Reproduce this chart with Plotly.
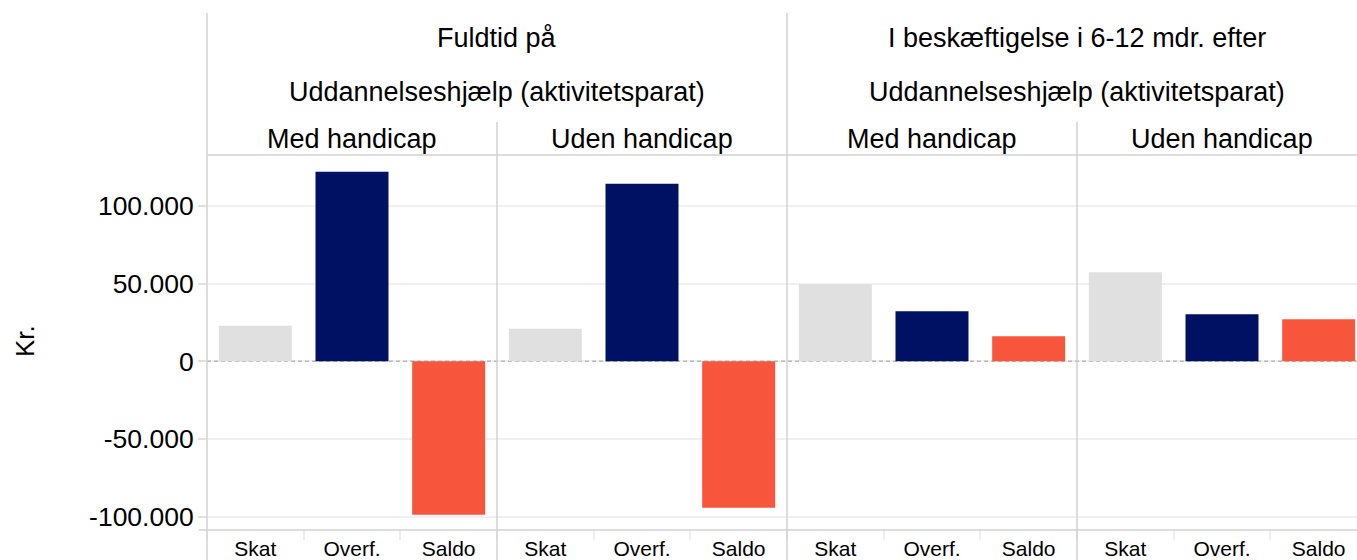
import plotly.graph_objects as go

categories = ["Skat", "Overf.", "Saldo"]
group_top = ["Fuldtid på", "I beskæftigelse i 6-12 mdr. efter"]
group_sub = "Uddannelseshjælp (aktivitetsparat)"
panel_titles = ["Med handicap", "Uden handicap", "Med handicap", "Uden handicap"]

fuldtid_med = [22800, 121900, -98600]
fuldtid_uden = [20900, 114200, -94100]
besk_med = [49600, 32200, 16100]
besk_uden = [57300, 30200, 27000]
panels = [fuldtid_med, fuldtid_uden, besk_med, besk_uden]

y_tickvals = [-100000, -50000, 0, 50000, 100000]
y_ticktext = ["-100.000", "-50.000", "0", "50.000", "100.000"]

bar_colors = ["#E0E0E0", "#001163", "#F7563D"]
FONT = "Liberation Sans, Arial, sans-serif"

W, H = 1357, 560
L, R, T, B = 207, 0, 155, 30
PW = W - L - R
PH = H - T - B
panel_px = 290.0
cat_px = panel_px / 3.0


def px_x(px):
    return (px - L) / PW


def px_y(py):
    return (H - B - py) / PH


fig = go.Figure()
for i, vals in enumerate(panels):
    ax = "x" if i == 0 else f"x{i+1}"
    fig.add_trace(go.Bar(
        x=categories, y=vals, xaxis=ax, yaxis="y",
        marker=dict(color=bar_colors, line=dict(width=0)),
        width=0.755, showlegend=False, hoverinfo="x+y",
    ))

layout = dict(
    width=W, height=H,
    margin=dict(l=L, r=R, t=T, b=B, pad=0),
    plot_bgcolor="rgba(0,0,0,0)", paper_bgcolor="white",
    font=dict(family=FONT, color="#000"),
    yaxis=dict(
        range=[-108400, 132600], tickvals=y_tickvals, ticktext=y_ticktext,
        tickfont=dict(size=26.5, family=FONT, color="#000"),
        showgrid=True, gridcolor="rgba(0,0,0,0.06)", gridwidth=1.5,
        zeroline=False, showline=False,
        ticks="outside", ticklen=8, tickcolor="#E0E0E0", tickwidth=1.5,
        ticklabelstandoff=-1, anchor="x",
    ),
)
for i in range(4):
    key = "xaxis" if i == 0 else f"xaxis{i+1}"
    x0 = px_x(L + panel_px * i)
    x1 = min(1.0, px_x(L + panel_px * (i + 1)))
    right_px = min(W - R, L + panel_px * (i + 1))
    r_end = -0.5 + (right_px - (L + panel_px * i)) / cat_px
    layout[key] = dict(
        domain=[x0, x1], range=[-0.5, r_end], anchor="y",
        type="category", categoryorder="array", categoryarray=categories,
        tickfont=dict(size=21, family=FONT, color="#000"),
        showgrid=False, zeroline=False, showline=False,
        ticks="outside", tickson="boundaries", ticklen=9,
        tickcolor="#EDEDED", tickwidth=1.5, ticklabelstandoff=4,
    )
fig.update_layout(**layout)

line_col = "#D2D2D2"
shapes = []
# dashed zero line (below bars, visible through the transparent plot background)
shapes.append(dict(type="line", xref="paper", yref="y",
                   x0=0, x1=1, y0=0, y1=0, layer="below",
                   line=dict(color="#C4C4C4", width=1.5, dash="4px,3px")))
for i, top in zip(range(5), [13, 122, 13, 122, 13]):
    xp = L + panel_px * i
    if xp > W:
        continue
    shapes.append(dict(type="line", xref="paper", yref="paper",
                       x0=px_x(xp), x1=px_x(xp), y0=px_y(H), y1=px_y(top),
                       line=dict(color=line_col, width=1.5)))
shapes.append(dict(type="line", xref="paper", yref="paper",
                   x0=0, x1=1, y0=1, y1=1,
                   line=dict(color=line_col, width=1.5)))
shapes.append(dict(type="line", xref="paper", yref="paper",
                   x0=px_x(199), x1=1, y0=0, y1=0,
                   line=dict(color=line_col, width=1.5)))
fig.update_layout(shapes=shapes)

ann = []
group_centers = [L + panel_px, L + panel_px * 3]
for gx, gt in zip(group_centers, group_top):
    ann.append(dict(text=gt, x=px_x(gx), y=px_y(38), xref="paper", yref="paper",
                    showarrow=False, xanchor="center", yanchor="middle",
                    font=dict(size=27, family=FONT, color="#000")))
    ann.append(dict(text=group_sub, x=px_x(gx), y=px_y(91.5), xref="paper", yref="paper",
                    showarrow=False, xanchor="center", yanchor="middle",
                    font=dict(size=27, family=FONT, color="#000")))
for i, pt in enumerate(panel_titles):
    cx = L + panel_px * (i + 0.5)
    ann.append(dict(text=pt, x=px_x(cx), y=px_y(138.5), xref="paper", yref="paper",
                    showarrow=False, xanchor="center", yanchor="middle",
                    font=dict(size=27, family=FONT, color="#000")))
ann.append(dict(text="Kr.", x=px_x(25), y=px_y(341), xref="paper", yref="paper",
                showarrow=False, xanchor="center", yanchor="middle", textangle=-90,
                font=dict(size=26, family=FONT, color="#000")))
fig.update_layout(annotations=ann)

fig.write_html(
    "out.html",
    config={"displayModeBar": False},
    post_script="document.body.style.margin='0px';document.body.style.overflow='hidden';",
)
